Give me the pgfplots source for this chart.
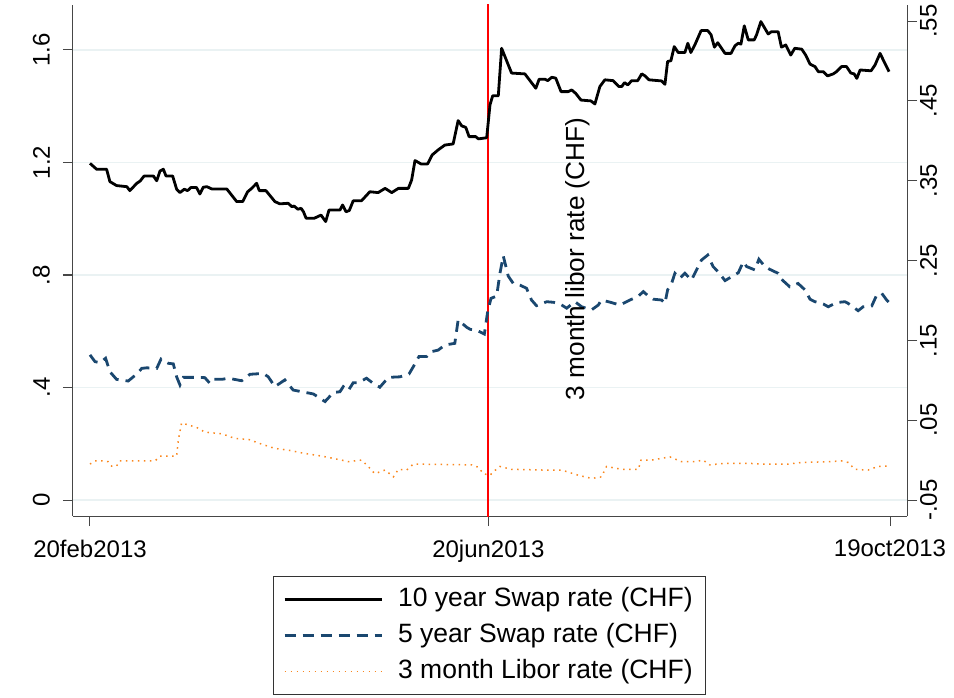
\documentclass[border=0pt]{standalone}
\usepackage{fontspec}
\setmainfont{Liberation Sans}
\usepackage{pgfplots}
\pgfplotsset{compat=1.18}
\definecolor{navy}{RGB}{26,71,111}
\definecolor{liborc}{RGB}{250,135,30}
\definecolor{gridc}{RGB}{234,242,243}
\definecolor{axc}{RGB}{70,70,70}
\begin{document}
\begin{tikzpicture}
\pgfplotsset{
  common/.style={
    scale only axis, width=834pt, height=511pt,
    xmin=-5.12, xmax=246.12,
    /pgf/number format/assume math mode=true,
    axis line style={-, draw=axc, line width=1pt},
    major tick length=10pt, tick align=outside,
    tick style={draw=axc, line width=1pt},
    ticklabel style={font=\fontsize{24}{28}\selectfont, inner sep=0pt},
  }
}
\begin{axis}[common, name=ax,
  ymin=-0.0569, ymax=1.76,
  axis x line*=bottom, axis y line*=left,
  xtick={0,120,241}, xticklabels={20feb2013,20jun2013,19oct2013},
  ytick={0,0.4,0.8,1.2,1.6}, yticklabels={0,.4,.8,1.2,1.6},
  yticklabel style={xshift=-13pt, rotate=90, anchor=south},
  xticklabel style={yshift=-14pt, anchor=north},
  ymajorgrids, major grid style={draw=gridc, line width=1.3pt},
  legend image code/.code={\draw[#1] (0pt,0pt) -- (97pt,0pt);},
  legend cell align=left,
  legend style={at={(0.4994,-0.1174)}, anchor=north,
    draw=black!80, line width=0.8pt,
    font=\fontsize{26.5}{30}\selectfont,
    inner xsep=10pt, inner ysep=5.25pt,
    nodes={inner xsep=3pt, inner ysep=5pt, text height=19.5pt, text depth=6.5pt},
    /tikz/every odd column/.append style={column sep=12pt}},
]
\addplot[red, line width=2.2pt, forget plot] coordinates {(120,-0.1) (120,1.8)};
\addplot[black, line width=2.8pt, line join=round] coordinates {
(0,1.197)(2.0,1.176)(5.0,1.176)(6.0,1.132)(8.0,1.118)(11.1,1.114)(12.0,1.100)(14.1,1.126)(15.1,1.134)(16.3,1.152)(19.1,1.152)(20.1,1.135)(21.1,1.170)(22.1,1.176)(22.9,1.152)(24.9,1.152)(26.1,1.105)(27.1,1.093)(28.4,1.105)(29.4,1.100)(30.4,1.111)(32.1,1.111)(33.1,1.088)(34.1,1.112)(35.2,1.114)(36.7,1.106)(41.2,1.106)(44.2,1.061)(46.0,1.061)(47.5,1.096)(48.7,1.108)(50.2,1.126)(51.0,1.100)(53.0,1.100)(55.7,1.061)(57.2,1.053)(59.7,1.055)(60.8,1.043)(61.5,1.045)(62.6,1.034)(63.6,1.037)(64.3,1.025)(65.1,1.002)(67.6,1.002)(69.6,1.013)(71.0,0.990)(72.0,1.031)(75.3,1.031)(76.1,1.049)(77.1,1.025)(78.1,1.029)(79.3,1.064)(81.8,1.064)(84.3,1.096)(86.8,1.093)(88.9,1.108)(90.9,1.093)(92.9,1.108)(95.9,1.108)(96.9,1.138)(97.9,1.207)(99.7,1.195)(101.7,1.195)(103.1,1.227)(104.9,1.245)(106.9,1.262)(109.4,1.266)(110.9,1.349)(112.0,1.330)(113.2,1.325)(114.2,1.292)(116.2,1.292)(117.0,1.284)(119.5,1.288)(120.5,1.405)(121.3,1.437)(123.0,1.437)(124.0,1.606)(127.0,1.518)(131.0,1.515)(134.3,1.464)(135.3,1.496)(137.1,1.496)(137.9,1.491)(139.1,1.503)(140.3,1.500)(141.9,1.452)(144.1,1.452)(145.1,1.458)(146.3,1.446)(147.9,1.422)(150.9,1.419)(152.1,1.408)(153.6,1.470)(155.1,1.494)(157.6,1.491)(159.3,1.470)(160.2,1.470)(161.0,1.484)(162.0,1.476)(163.2,1.491)(165.0,1.491)(166.2,1.515)(167.2,1.508)(168.4,1.494)(172.2,1.490)(173.2,1.478)(174.0,1.559)(175.0,1.562)(176.0,1.612)(177.2,1.591)(179.2,1.591)(180.1,1.624)(181.0,1.591)(182.2,1.618)(184.1,1.669)(186.1,1.669)(187.1,1.654)(188.1,1.610)(189.1,1.626)(191.3,1.588)(193.1,1.588)(194.3,1.615)(195.3,1.624)(196.1,1.621)(197.1,1.686)(198.3,1.636)(200.1,1.636)(200.8,1.654)(202.1,1.701)(204.3,1.657)(205.3,1.665)(207.3,1.665)(208.3,1.610)(209.6,1.618)(211.1,1.582)(212.3,1.606)(214.4,1.603)(215.6,1.582)(216.9,1.550)(218.4,1.541)(219.4,1.523)(220.9,1.523)(222.2,1.508)(223.9,1.515)(224.9,1.523)(226.4,1.541)(227.9,1.541)(229.2,1.518)(230.2,1.515)(231.0,1.499)(232.0,1.529)(235.3,1.526)(236.5,1.547)(238.0,1.588)(239.7,1.547)(240.7,1.523)
};
\addlegendentry{10 year Swap rate (CHF)}
\addplot[navy, line width=2.8pt, dash pattern=on 11pt off 7pt] coordinates {
(0,0.516)(1.5,0.492)(3.0,0.488)(4.7,0.504)(6.0,0.456)(8.0,0.429)(11.5,0.423)(14.1,0.448)(15.6,0.468)(17.1,0.470)(20.1,0.468)(21.4,0.501)(23.6,0.486)(25.1,0.484)(26.1,0.438)(27.1,0.409)(28.1,0.436)(30.1,0.436)(32.1,0.436)(34.6,0.435)(36.1,0.415)(37.1,0.429)(39.7,0.429)(41.7,0.433)(45.7,0.424)(48.2,0.447)(52.2,0.450)(53.7,0.438)(55.7,0.403)(58.7,0.427)(61.2,0.391)(63.8,0.385)(67.3,0.377)(70.8,0.350)(73.3,0.382)(75.3,0.385)(76.3,0.403)(77.8,0.389)(79.3,0.417)(80.8,0.417)(83.3,0.433)(85.6,0.412)(87.3,0.401)(89.9,0.436)(93.4,0.438)(96.1,0.448)(97.7,0.480)(99.1,0.510)(101.4,0.510)(102.7,0.527)(104.9,0.533)(106.9,0.551)(109.9,0.557)(110.9,0.640)(113.5,0.614)(114.5,0.607)(116.8,0.602)(118.8,0.590)(119.8,0.670)(120.8,0.717)(122.5,0.725)(123.5,0.806)(124.5,0.868)(126.0,0.796)(127.5,0.770)(129.5,0.764)(131.5,0.753)(133.0,0.711)(134.5,0.691)(137.6,0.705)(139.6,0.703)(141.6,0.697)(143.6,0.682)(146.1,0.705)(148.1,0.687)(151.1,0.676)(153.1,0.693)(154.1,0.711)(157.1,0.702)(159.6,0.693)(163.2,0.714)(165.2,0.725)(166.7,0.741)(168.2,0.725)(169.7,0.714)(172.2,0.711)(173.2,0.699)(174.0,0.747)(175.2,0.770)(176.2,0.806)(177.7,0.788)(179.2,0.806)(181.2,0.782)(182.7,0.818)(184.2,0.853)(186.1,0.871)(187.7,0.830)(189.2,0.812)(191.3,0.780)(193.3,0.794)(195.3,0.808)(196.8,0.847)(197.8,0.830)(200.3,0.818)(201.5,0.856)(203.3,0.830)(204.8,0.820)(207.3,0.806)(208.3,0.785)(210.8,0.758)(213.3,0.770)(215.4,0.747)(216.9,0.714)(218.4,0.705)(220.9,0.697)(222.4,0.687)(224.9,0.702)(227.4,0.705)(228.4,0.699)(230.4,0.682)(231.4,0.673)(232.9,0.687)(235.5,0.690)(237.0,0.729)(238.5,0.735)(240.0,0.711)(241.0,0.699)
};
\addlegendentry{5 year Swap rate (CHF)}
\addlegendimage{liborc, line width=1.5pt, dash pattern=on 1.5pt off 4.5pt}
\addlegendentry{3 month Libor rate (CHF)}
\end{axis}
\begin{axis}[common,
  ymin=-0.07004, ymax=0.5701,
  axis y line*=right, axis x line=none,
  ytick={-0.05,0.05,0.15,0.25,0.35,0.45,0.55},
  yticklabels={-.05,.05,.15,.25,.35,.45,.55},
  yticklabel style={xshift=3pt, rotate=90, anchor=north},
]
\addplot[liborc, line width=1.5pt, dash pattern=on 1.5pt off 4.5pt] coordinates {
(0,-0.005)(1.5,-0.001)(3.5,-0.001)(5.5,-0.002)(6.5,-0.0075)(8.0,-0.0075)(9.0,-0.001)(19.6,-0.001)(21.1,0.005)(26.1,0.005)(26.6,0.025)(27.6,0.0466)(29.6,0.044)(32.1,0.041)(34.6,0.035)(39.7,0.033)(43.7,0.027)(47.7,0.026)(51.7,0.020)(55.7,0.0146)(59.7,0.0125)(63.8,0.009)(69.8,0.005)(75.8,0.000)(77.8,-0.002)(81.8,0.000)(83.8,-0.008)(85.8,-0.017)(88.9,-0.0125)(91.4,-0.021)(92.9,-0.0116)(95.4,-0.0125)(97.4,-0.005)(115.0,-0.006)(117.0,-0.009)(118.5,-0.017)(120.5,-0.019)(121.5,-0.0146)(123.5,-0.008)(127.0,-0.0116)(137.0,-0.0125)(142.1,-0.0125)(147.1,-0.019)(151.1,-0.023)(154.1,-0.021)(155.6,-0.008)(160.2,-0.0116)(165.2,-0.0116)(166.0,0.000)(169.2,0.000)(174.7,0.004)(178.2,-0.002)(182.2,-0.002)(184.7,0.000)(186.7,-0.006)(191.3,-0.004)(198.3,-0.004)(202.3,-0.005)(210.3,-0.005)(214.4,-0.003)(222.4,-0.002)(226.4,-0.001)(228.4,-0.003)(230.4,-0.0116)(234.4,-0.0125)(237.4,-0.008)(241.0,-0.0075)
};
\node[rotate=90, font=\fontsize{26.2}{30}\selectfont, inner sep=0pt] at (axis description cs:0.6055,0.503) {3 month libor rate (CHF)};
\end{axis}
\pgfresetboundingbox
\path[use as bounding box] ([xshift=-73pt,yshift=-181pt]ax.south west) rectangle ([xshift=881pt,yshift=516pt]ax.south west);
\end{tikzpicture}
\end{document}
